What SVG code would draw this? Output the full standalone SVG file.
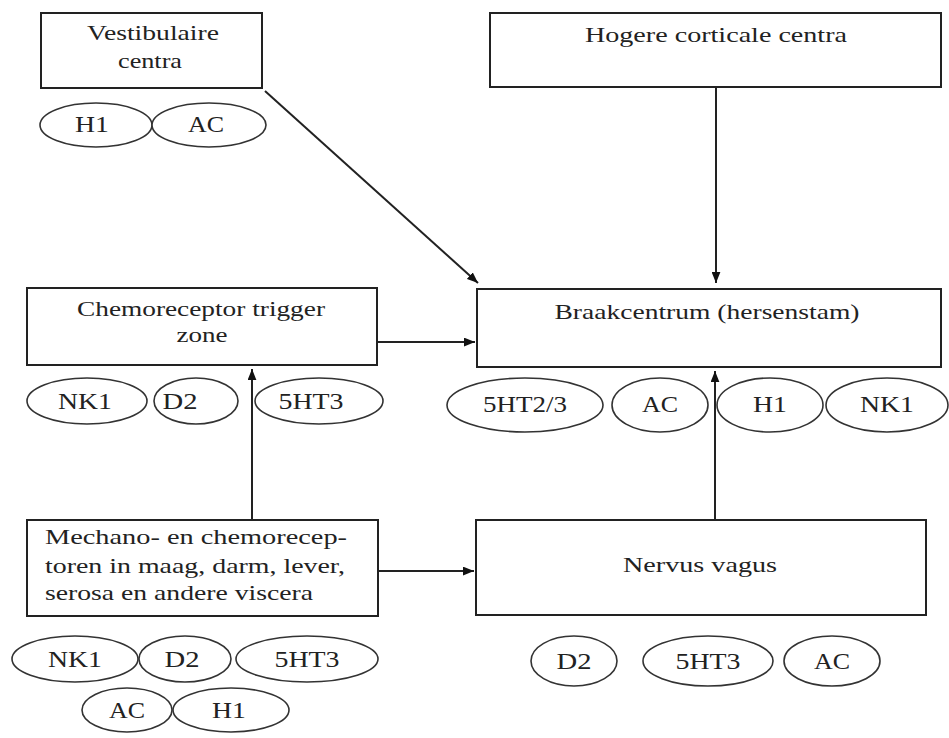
<svg xmlns="http://www.w3.org/2000/svg" width="949" height="738" viewBox="0 0 949 738">
<style>
.box{fill:#fff;stroke:#222;stroke-width:2}
.rc{fill:#fff;stroke:#333;stroke-width:1.6}
.t{font-family:'Liberation Serif','DejaVu Serif',serif;font-size:21px;fill:#222}
.c{text-anchor:middle}
.l{font-family:'Liberation Serif','DejaVu Serif',serif;font-size:24px;fill:#222;text-anchor:middle}
.ln{stroke:#222;stroke-width:2;fill:none}
</style>
<defs>
<marker id="ah" viewBox="0 0 10 8" refX="10" refY="4" markerWidth="11" markerHeight="9" markerUnits="userSpaceOnUse" orient="auto">
<path d="M0,0 L10,4 L0,8 z" fill="#111"/>
</marker>
</defs>
<rect width="949" height="738" fill="#fff"/>

<g id="connectors">
<line class="ln" x1="265" y1="91" x2="478" y2="283" marker-end="url(#ah)"/>
<line class="ln" x1="716" y1="87" x2="716" y2="283" marker-end="url(#ah)"/>
<line class="ln" x1="377" y1="342" x2="475" y2="342" marker-end="url(#ah)"/>
<line class="ln" x1="252" y1="520" x2="252" y2="369" marker-end="url(#ah)"/>
<line class="ln" x1="378" y1="571" x2="474" y2="571" marker-end="url(#ah)"/>
<line class="ln" x1="715" y1="520" x2="715" y2="371" marker-end="url(#ah)"/>
</g>

<g id="vestibulaire">
<rect class="box" x="41" y="13" width="221" height="75"/>
<text class="t c" x="153" y="40" textLength="132" lengthAdjust="spacingAndGlyphs">Vestibulaire</text>
<text class="t c" x="150" y="68" textLength="64" lengthAdjust="spacingAndGlyphs">centra</text>
</g>
<g id="vestibulaire-receptors">
<ellipse class="rc" cx="96" cy="125" rx="56" ry="22"/>
<text class="l" x="92" y="132" textLength="34" lengthAdjust="spacingAndGlyphs">H1</text>
<ellipse class="rc" cx="209" cy="125" rx="57" ry="22"/>
<text class="l" x="206" y="132" textLength="36" lengthAdjust="spacingAndGlyphs">AC</text>
</g>

<g id="hogere">
<rect class="box" x="490" y="13" width="451" height="74"/>
<text class="t c" x="716" y="42" textLength="262" lengthAdjust="spacingAndGlyphs">Hogere corticale  centra</text>
</g>

<g id="ctz">
<rect class="box" x="27" y="288" width="350" height="77"/>
<text class="t c" x="201" y="316" textLength="248" lengthAdjust="spacingAndGlyphs">Chemoreceptor trigger</text>
<text class="t c" x="202" y="342" textLength="51" lengthAdjust="spacingAndGlyphs">zone</text>
</g>
<g id="ctz-receptors">
<ellipse class="rc" cx="87" cy="401" rx="60" ry="23"/>
<text class="l" x="85" y="409" textLength="54" lengthAdjust="spacingAndGlyphs">NK1</text>
<ellipse class="rc" cx="196" cy="401" rx="42" ry="23"/>
<text class="l" x="180" y="409" textLength="35" lengthAdjust="spacingAndGlyphs">D2</text>
<ellipse class="rc" cx="319" cy="401" rx="64" ry="23"/>
<text class="l" x="311" y="409" textLength="65" lengthAdjust="spacingAndGlyphs">5HT3</text>
</g>

<g id="braakcentrum">
<rect class="box" x="477" y="289" width="464" height="78"/>
<text class="t c" x="707" y="319" textLength="305" lengthAdjust="spacingAndGlyphs">Braakcentrum  (hersenstam)</text>
</g>
<g id="braak-receptors">
<ellipse class="rc" cx="525" cy="405" rx="78" ry="27"/>
<text class="l" x="525" y="412" textLength="84" lengthAdjust="spacingAndGlyphs">5HT2/3</text>
<ellipse class="rc" cx="660" cy="405" rx="48" ry="27"/>
<text class="l" x="660" y="412" textLength="36" lengthAdjust="spacingAndGlyphs">AC</text>
<ellipse class="rc" cx="770" cy="405" rx="53" ry="27"/>
<text class="l" x="770" y="412" textLength="34" lengthAdjust="spacingAndGlyphs">H1</text>
<ellipse class="rc" cx="887" cy="405" rx="61" ry="27"/>
<text class="l" x="887" y="412" textLength="54" lengthAdjust="spacingAndGlyphs">NK1</text>
</g>

<g id="mechano">
<rect class="box" x="27" y="520" width="351" height="96"/>
<text class="t" x="45" y="544" textLength="302" lengthAdjust="spacingAndGlyphs">Mechano- en chemorecep-</text>
<text class="t" x="45" y="573" textLength="300" lengthAdjust="spacingAndGlyphs">toren in maag, darm, lever,</text>
<text class="t" x="45" y="600" textLength="268" lengthAdjust="spacingAndGlyphs">serosa en andere viscera</text>
</g>
<g id="mechano-receptors">
<ellipse class="rc" cx="75" cy="659" rx="63" ry="23"/>
<text class="l" x="75" y="667" textLength="54" lengthAdjust="spacingAndGlyphs">NK1</text>
<ellipse class="rc" cx="185" cy="659" rx="46" ry="23"/>
<text class="l" x="182" y="667" textLength="35" lengthAdjust="spacingAndGlyphs">D2</text>
<ellipse class="rc" cx="307" cy="659" rx="71" ry="23"/>
<text class="l" x="307" y="667" textLength="65" lengthAdjust="spacingAndGlyphs">5HT3</text>
<ellipse class="rc" cx="127" cy="710" rx="45" ry="22"/>
<text class="l" x="127" y="718" textLength="36" lengthAdjust="spacingAndGlyphs">AC</text>
<ellipse class="rc" cx="231" cy="710" rx="58" ry="22"/>
<text class="l" x="229" y="718" textLength="34" lengthAdjust="spacingAndGlyphs">H1</text>
</g>

<g id="nervus-vagus">
<rect class="box" x="476" y="520" width="450" height="95"/>
<text class="t c" x="700" y="572" textLength="154" lengthAdjust="spacingAndGlyphs">Nervus vagus</text>
</g>
<g id="vagus-receptors">
<ellipse class="rc" cx="574" cy="661" rx="43" ry="25"/>
<text class="l" x="574" y="669" textLength="35" lengthAdjust="spacingAndGlyphs">D2</text>
<ellipse class="rc" cx="708" cy="661" rx="65" ry="25"/>
<text class="l" x="708" y="669" textLength="65" lengthAdjust="spacingAndGlyphs">5HT3</text>
<ellipse class="rc" cx="832" cy="661" rx="48" ry="25"/>
<text class="l" x="832" y="669" textLength="36" lengthAdjust="spacingAndGlyphs">AC</text>
</g>
</svg>
